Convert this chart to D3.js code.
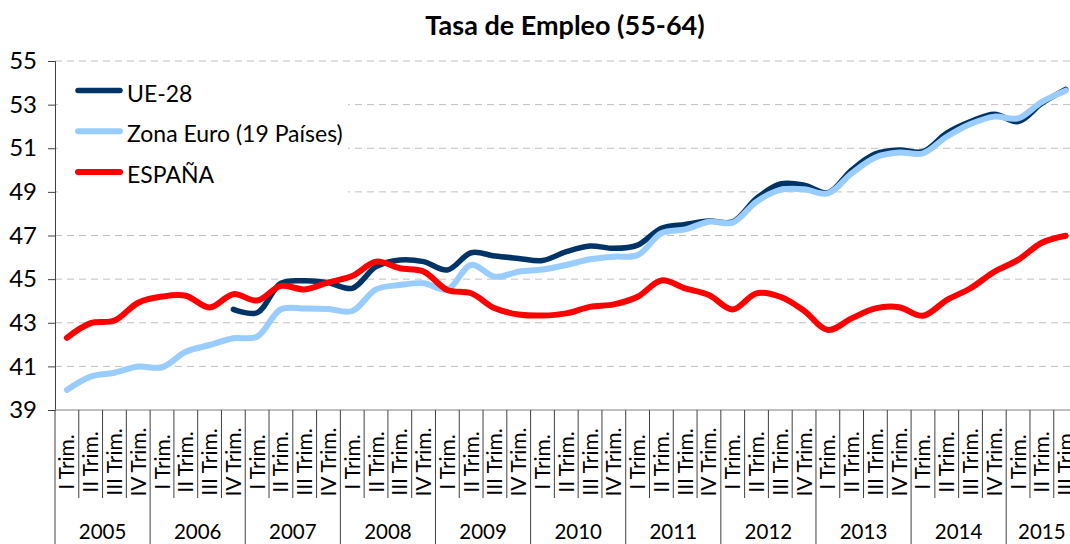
<!DOCTYPE html>
<html>
<head>
<meta charset="utf-8">
<script src="https://cdn.jsdelivr.net/npm/d3@7"></script>
<style>
  body { margin: 0; background: #fff; }
  svg { display: block; font-family: Lato, "Open Sans", sans-serif; }
</style>
</head>
<body>
<div id="app"></div>
<script>
// data
const years = ["2005", "2006", "2007", "2008", "2009", "2010", "2011", "2012", "2013", "2014", "2015"];
const quarterNames = ["I Trim.", "II Trim.", "III Trim.", "IV Trim."];
const yTicks = [39, 41, 43, 45, 47, 49, 51, 53, 55];

const ue28 = [null, null, null, null, null, null, null,
  43.61, 43.46, 44.81, 44.92, 44.83, 44.58, 45.57, 45.88, 45.80, 45.42,
  46.21, 46.06, 45.95, 45.85, 46.26, 46.52, 46.41, 46.56, 47.33, 47.51,
  47.66, 47.63, 48.70, 49.36, 49.31, 48.96, 50.00, 50.74, 50.92, 50.84,
  51.69, 52.22, 52.56, 52.22, 53.06, 53.70];
const zonaEuro = [39.92, 40.53, 40.71, 40.99, 40.96, 41.67, 41.98, 42.29, 42.36, 43.62,
  43.65, 43.63, 43.54, 44.53, 44.73, 44.81, 44.53, 45.65, 45.11, 45.34,
  45.44, 45.65, 45.91, 46.03, 46.10, 47.10, 47.28, 47.63, 47.59, 48.55,
  49.09, 49.12, 48.93, 49.85, 50.58, 50.80, 50.77, 51.53, 52.11, 52.45,
  52.37, 53.13, 53.64];
const espana = [42.31, 42.98, 43.10, 43.92, 44.20, 44.24, 43.70, 44.31, 44.02, 44.69,
  44.53, 44.85, 45.14, 45.80, 45.50, 45.35, 44.50, 44.35, 43.66, 43.38,
  43.33, 43.43, 43.73, 43.84, 44.19, 44.94, 44.58, 44.27, 43.61, 44.35,
  44.19, 43.55, 42.67, 43.20, 43.66, 43.71, 43.32, 44.04, 44.58, 45.34,
  45.88, 46.67, 46.99];

const series = [
  { name: "UE-28", values: ue28, color: "#003466", width: 5.5 },
  { name: "Zona Euro (19 Países)", values: zonaEuro, color: "#99CCFF", width: 6 },
  { name: "ESPAÑA", values: espana, color: "#FF0000", width: 6 }
];

// one category per quarter, 2015 only has three
const quarters = [];
years.forEach((yr) => {
  const n = yr === "2015" ? 3 : 4;
  for (let q = 0; q < n; q++) quarters.push({ year: yr, q: q, label: quarterNames[q], i: quarters.length });
});

const w = 1070;
const h = 544;
const plotLeft = 55;
const plotTop = 61;
const plotBottom = 410;
const step = 23.78;

const svg = d3.select("#app").append("svg").attr("width", w).attr("height", h);

const x = d3.scaleBand()
  .domain(quarters.map((d) => d.i))
  .range([plotLeft, plotLeft + quarters.length * step])
  .paddingInner(0).paddingOuter(0);
const cx = (i) => x(i) + x.bandwidth() / 2;

const y = d3.scaleLinear().domain([39, 55]).range([plotBottom, plotTop]);

//title
svg.append("text")
  .attr("x", 565).attr("y", 35)
  .attr("text-anchor", "middle")
  .style("font-size", "27px").style("font-weight", "bold")
  .text("Tasa de Empleo (55-64)");

//grid lines
svg.append("g").selectAll("line")
  .data(yTicks.filter((t) => t !== 39))
  .enter().append("line")
  .attr("x1", plotLeft).attr("x2", w)
  .attr("y1", (d) => y(d)).attr("y2", (d) => y(d))
  .attr("stroke", "#c0c0c0").attr("stroke-width", 1)
  .attr("stroke-dasharray", "7,5");

//y axis
const yAxis = d3.axisLeft(y).tickValues(yTicks).tickSize(7).tickPadding(11);
const gy = svg.append("g").attr("transform", `translate(${plotLeft},0)`).call(yAxis);
gy.select(".domain").attr("stroke", "#404040");
gy.selectAll(".tick line").attr("stroke", "#404040");
gy.selectAll(".tick text")
  .style("font-size", "24px").style("font-family", "Lato, sans-serif").attr("fill", "#000");

//x axis: baseline, quarter separators, year separators
svg.append("line")
  .attr("x1", plotLeft).attr("x2", w).attr("y1", plotBottom).attr("y2", plotBottom)
  .attr("stroke", "#808080");

svg.append("g").selectAll("line")
  .data(quarters.filter((d) => d.q !== 0))
  .enter().append("line")
  .attr("x1", (d) => x(d.i)).attr("x2", (d) => x(d.i))
  .attr("y1", plotBottom).attr("y2", 498)
  .attr("stroke", "#404040");

svg.append("g").selectAll("line")
  .data(quarters.filter((d) => d.q === 0))
  .enter().append("line")
  .attr("x1", (d) => x(d.i)).attr("x2", (d) => x(d.i))
  .attr("y1", plotBottom).attr("y2", h)
  .attr("stroke", "#404040");

svg.append("g").selectAll("text")
  .data(quarters)
  .enter().append("text")
  .attr("transform", (d) => `translate(${cx(d.i) + 7.5},462) rotate(-90)`)
  .attr("text-anchor", "middle")
  .style("font-size", "21px")
  .text((d) => d.label);

svg.append("g").selectAll("text")
  .data(years)
  .enter().append("text")
  .attr("x", (d) => {
    const qs = quarters.filter((q) => q.year === d);
    return (x(qs[0].i) + x(qs[qs.length - 1].i) + step) / 2;
  })
  .attr("y", 539)
  .attr("text-anchor", "middle")
  .style("font-size", "20.5px")
  .text((d) => d);

//lines
const line = d3.line()
  .defined((d) => d != null)
  .x((d, i) => cx(i))
  .y((d) => y(d))
  .curve(d3.curveCatmullRom.alpha(0.5));

svg.append("g").selectAll("path")
  .data(series)
  .enter().append("path")
  .attr("d", (d) => line(d.values))
  .attr("fill", "none")
  .attr("stroke", (d) => d.color)
  .attr("stroke-width", (d) => d.width)
  .attr("stroke-linecap", "round")
  .attr("stroke-linejoin", "round");

//legend
const legend = svg.append("g");
legend.append("rect")
  .attr("x", 58).attr("y", 70).attr("width", 290).attr("height", 128)
  .attr("fill", "#fff");

const items = legend.selectAll("g")
  .data(series)
  .enter().append("g")
  .attr("transform", (d, i) => `translate(0,${90.5 + i * 40.8})`);
items.append("line")
  .attr("x1", 78).attr("x2", 120).attr("y1", 0).attr("y2", 0)
  .attr("stroke", (d) => d.color)
  .attr("stroke-width", (d) => d.width)
  .attr("stroke-linecap", "round");
items.append("text")
  .attr("x", 127).attr("y", 11)
  .style("font-size", "23px")
  .text((d) => d.name);
</script>
</body>
</html>
